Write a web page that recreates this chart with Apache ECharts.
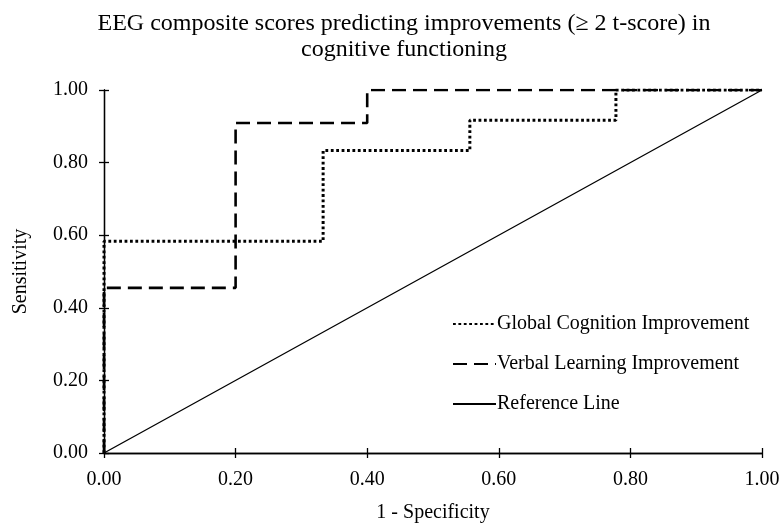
<!DOCTYPE html>
<html>
<head>
<meta charset="utf-8">
<script src="https://cdn.jsdelivr.net/npm/echarts@6/dist/echarts.min.js"></script>
<style>html,body{margin:0;padding:0;background:#fff}#c{width:782px;height:523px}</style>
</head>
<body>
<div id="c"></div>
<script>
const titleLines = ['EEG composite scores predicting improvements (\u2265 2 t-score) in', 'cognitive functioning'];
const tickValues = [0, 0.2, 0.4, 0.6, 0.8, 1.0];
const globalX = [0, 0, 0.333, 0.333, 0.556, 0.556, 0.778, 0.778, 1.0];
const globalY = [0, 0.583, 0.583, 0.833, 0.833, 0.917, 0.917, 1.0, 1.0];
const verbalX = [0, 0, 0.2, 0.2, 0.4, 0.4, 1.0];
const verbalY = [0, 0.455, 0.455, 0.909, 0.909, 1.0, 1.0];
const refX = [0, 1];
const refY = [0, 1];
const seriesNames = ['Global Cognition Improvement', 'Verbal Learning Improvement', 'Reference Line'];

const pair = (xs, ys) => xs.map((x, i) => [x, ys[i]]);
const font = 'Liberation Serif';
const fmt = v => v.toFixed(2);

const baseAxis = {
  type: 'value', min: 0, max: 1, interval: 0.2,
  splitLine: { show: false },
  axisLine: { show: true, onZero: false, lineStyle: { color: '#000', width: 1.3 } },
};

const chart = echarts.init(document.getElementById('c'));
chart.setOption({
  animation: false,
  backgroundColor: '#fff',
  title: {
    text: titleLines.join('\n'),
    left: 399, top: 6, textAlign: 'center',
    textStyle: { fontFamily: font, fontSize: 24, fontWeight: 'normal', color: '#000', lineHeight: 26 }
  },
  grid: { left: 104, right: 20, top: 90, bottom: 70, containLabel: false, outerBoundsMode: 'none' },
  legend: {
    orient: 'vertical', left: 447, top: 309,
    itemWidth: 43, itemHeight: 14, itemGap: 20,
    itemStyle: { color: 'rgba(0,0,0,0)', borderColor: 'rgba(0,0,0,0)', borderWidth: 0, opacity: 0 },
    textStyle: { fontFamily: font, fontSize: 20, color: '#000', padding: [0, 0, 0, -4] },
    data: seriesNames
  },
  xAxis: [
    Object.assign({}, baseAxis, {
      name: '1 - Specificity', nameLocation: 'middle', nameGap: 50,
      nameTextStyle: { fontFamily: font, fontSize: 20, color: '#000' },
      axisTick: { show: true, inside: false, length: 5, lineStyle: { color: '#000', width: 1.3 } },
      axisLabel: { margin: 17, fontFamily: font, fontSize: 20, color: '#000', formatter: fmt }
    }),
    Object.assign({}, baseAxis, {
      position: 'bottom',
      axisTick: { show: true, inside: true, length: 5, lineStyle: { color: '#000', width: 1.3 } },
      axisLabel: { show: false }
    })
  ],
  yAxis: [
    Object.assign({}, baseAxis, {
      name: 'Sensitivity', nameLocation: 'middle', nameGap: 73,
      nameTextStyle: { fontFamily: font, fontSize: 20, color: '#000' },
      axisTick: { show: true, inside: false, length: 5, lineStyle: { color: '#000', width: 1.3 } },
      axisLabel: { margin: 16, fontFamily: font, fontSize: 20, color: '#000', formatter: fmt }
    }),
    Object.assign({}, baseAxis, {
      position: 'left',
      axisTick: { show: true, inside: true, length: 5, lineStyle: { color: '#000', width: 1.3 } },
      axisLabel: { show: false }
    })
  ],
  series: [
    {
      name: seriesNames[0], type: 'line', symbol: 'none', data: pair(globalX, globalY),
      lineStyle: { color: '#000', width: 3, type: [2.8, 2.6] },
      itemStyle: { color: '#000' }, z: 3
    },
    {
      name: seriesNames[1], type: 'line', symbol: 'none', data: pair(verbalX, verbalY),
      lineStyle: { color: '#000', width: 2.6, type: [14, 7] },
      itemStyle: { color: '#000' }, z: 2
    },
    {
      name: seriesNames[2], type: 'line', symbol: 'none', data: pair(refX, refY),
      lineStyle: { color: '#000', width: 1.3, type: 'solid' },
      itemStyle: { color: '#000' }, z: 1
    }
  ]
});
</script>
</body>
</html>
